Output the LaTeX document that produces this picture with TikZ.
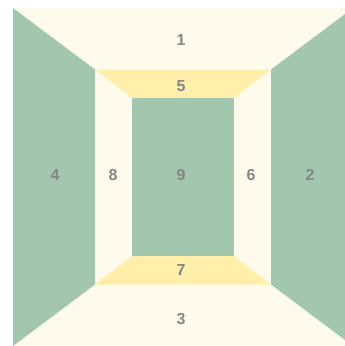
\documentclass[tikz,border=0pt]{standalone}
\usepackage{fontspec}
\setmainfont{Liberation Sans}
\definecolor{wallgreen}{HTML}{A3C7AE}
\definecolor{floorcream}{HTML}{FEFBEC}
\definecolor{lampyellow}{HTML}{FFEFAA}
\definecolor{labelgray}{HTML}{858585}
\tikzset{
  face/.style={fill=#1, draw=none},
  num/.style={text=labelgray, font=\fontsize{16}{19}\selectfont\bfseries, inner sep=0pt}
}
\begin{document}
\begin{tikzpicture}[x=1bp, y=-1bp]
\useasboundingbox (0,0) rectangle (345,346);
\clip (0,0) rectangle (345,346);
% corners: outer, frame, back
\coordinate (o1) at (13,8);   \coordinate (o2) at (353,8);
\coordinate (o3) at (353,346); \coordinate (o4) at (13,346);
\coordinate (f1) at (95,69.5);  \coordinate (f2) at (271,69.5);
\coordinate (f3) at (271,284.5); \coordinate (f4) at (95,284.5);
\coordinate (b1) at (132,98);  \coordinate (b2) at (234,98);
\coordinate (b3) at (234,256); \coordinate (b4) at (132,256);

\fill[face=floorcream] (o1) -- (o2) -- (o3) -- (o4) -- cycle;
\fill[face=wallgreen] (o1) -- (f1) -- (f4) -- (o4) -- cycle;
\fill[face=wallgreen] (o2) -- (f2) -- (f3) -- (o3) -- cycle;
\fill[face=lampyellow] (f1) -- (f2) -- (b2) -- (b1) -- cycle;
\fill[face=lampyellow] (f4) -- (f3) -- (b3) -- (b4) -- cycle;
\fill[face=wallgreen] (b1) rectangle (b3);

\node[num] (n1) at (181,40) {1};
\node[num] (n2) at (310,175) {2};
\node[num] (n3) at (181,319) {3};
\node[num] (n4) at (55,175) {4};
\node[num] (n5) at (181,86) {5};
\node[num] (n6) at (251,175) {6};
\node[num] (n7) at (181,270) {7};
\node[num] (n8) at (113,175) {8};
\node[num] (n9) at (181,175) {9};
\end{tikzpicture}
\end{document}
